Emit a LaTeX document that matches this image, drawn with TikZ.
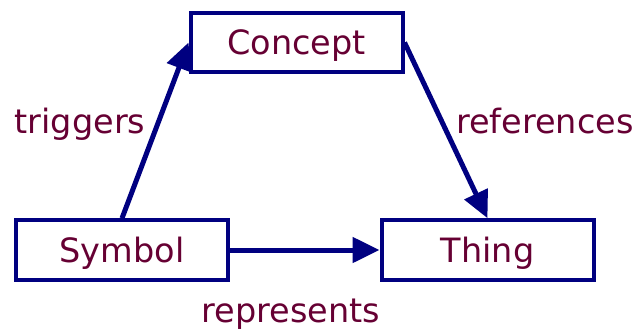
\documentclass[tikz,border=0pt]{standalone}
\usepackage{fontspec}
\setmainfont{DejaVu Sans}
\usetikzlibrary{arrows.meta}
\definecolor{boxblue}{RGB}{0,0,128}
\definecolor{wordred}{RGB}{102,0,51}
\begin{document}
\begin{tikzpicture}[x=1pt, y=1pt,
    every node/.style={text=wordred, font=\fontsize{33.5}{40}\selectfont},
    termbox/.style={draw=boxblue, line width=4pt, fill=white, minimum width=212pt,
                    minimum height=59.5pt, text height=24.5pt, text depth=0pt, inner sep=0pt},
    link/.style={draw=boxblue, line width=5pt, -{Triangle[length=27pt, width=25pt]}}]
    \useasboundingbox (0,0) rectangle (634,333);

    % The three terms
    \node[termbox] (concept) at (296.5, 290.5) {Concept};
    \node[termbox] (symbol) at (122, 83) {Symbol};
    \node[termbox] (thing) at (487.5, 83) {Thing};

    % Relations between them
    \draw[link] (symbol.north) -- (concept.west);
    \draw[link] (concept.east) -- (thing.north);
    \draw[link] (symbol.east) -- (thing.west);

    % Labels of the relations
    \node[anchor=base] (triggers) at (80, 200) {triggers};
    \node[anchor=base] (references) at (545, 200) {references};
    \node[anchor=base] (represents) at (291, 11) {represents};
\end{tikzpicture}
\end{document}
